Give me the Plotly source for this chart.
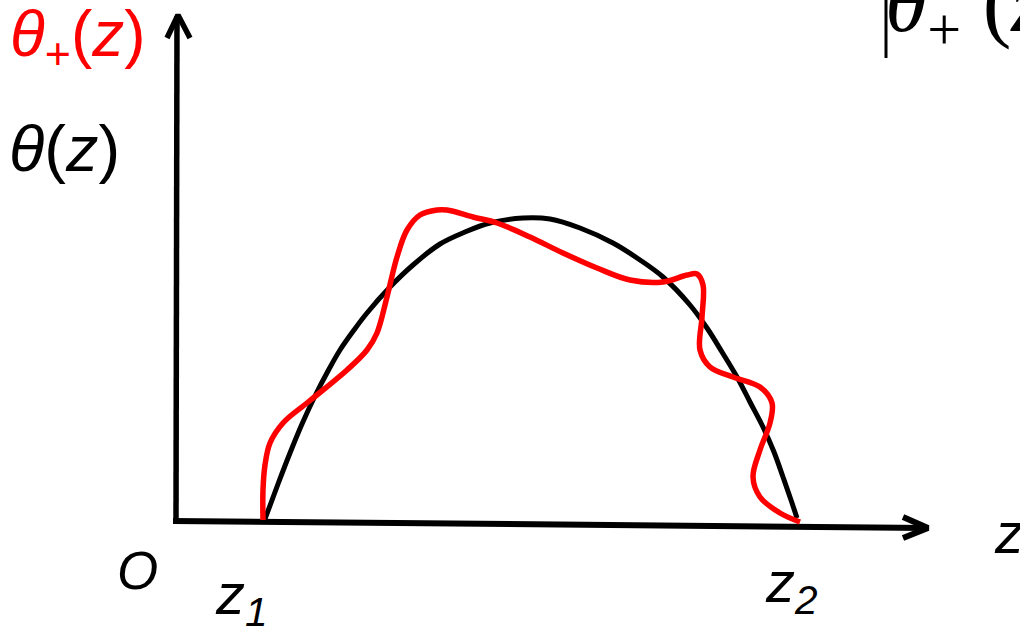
import plotly.graph_objects as go

# Coordinates: z to the right from origin O, theta upward from the z axis (pixel-like units)
z_curve = [88, 101, 113, 125, 138, 151, 163, 177, 190, 213, 236, 263, 288, 313, 346, 373, 403, 436,
           463, 486, 513, 530, 545, 560, 573, 586, 597, 606, 614, 620]
theta_curve = [2, 37, 68, 97, 125, 150, 171, 191, 208, 234, 256, 277, 289, 298, 303, 302, 293, 278,
               261, 244, 216, 193, 169, 144, 119, 94, 69, 44, 21, 3]

z_plus = [86, 86, 88, 93, 106, 130, 146, 170, 190, 200, 210, 220, 230, 243, 260, 270, 296, 320, 353, 386,
          420, 453, 486, 510, 520, 526, 525, 523, 533, 556, 583, 595, 593, 583, 576, 583, 603, 623]
theta_plus = [1, 31, 56, 78, 98, 118, 131, 151, 171, 188, 224, 264, 291, 306, 311, 311, 304, 298, 284, 268,
              253, 241, 239, 246, 247, 236, 204, 171, 154, 144, 134, 118, 98, 71, 44, 24, 8, -1]

# axes geometry
z_axis_x = [-4, 751]
z_axis_y = [0, -7]
z_head_x = [726, 751, 726]
z_head_y = [4, -7, -17]
t_axis_x = [-1, 0]
t_axis_y = [-3, 505]
t_head_x = [-10, 1, 13]
t_head_y = [483, 506, 483]

W, H = 1020, 629
X0, Y0 = 177, 521   # origin location in the picture (pixels)

fig = go.Figure()
fig.add_trace(go.Scatter(x=t_axis_x, y=t_axis_y, mode="lines",
                         line=dict(color="black", width=5.5), hoverinfo="skip"))
fig.add_trace(go.Scatter(x=t_head_x, y=t_head_y, mode="lines",
                         line=dict(color="black", width=5.5), hoverinfo="skip"))
fig.add_trace(go.Scatter(x=z_axis_x, y=z_axis_y, mode="lines",
                         line=dict(color="black", width=6), hoverinfo="skip"))
fig.add_trace(go.Scatter(x=z_head_x, y=z_head_y, mode="lines",
                         line=dict(color="black", width=6), hoverinfo="skip"))
fig.add_trace(go.Scatter(x=z_curve, y=theta_curve, mode="lines",
                         line=dict(color="black", width=5, shape="spline", smoothing=1.0),
                         hoverinfo="skip"))
fig.add_trace(go.Scatter(x=z_plus, y=theta_plus, mode="lines",
                         line=dict(color="#ff0000", width=5.5, shape="spline", smoothing=1.0),
                         hoverinfo="skip"))

# vertical bar of the cut-off formula at top right
fig.add_shape(type="line", xref="paper", yref="paper",
              x0=886 / W, x1=886 / W, y0=1.02, y1=1 - 58 / H,
              line=dict(color="black", width=3))

sans = "Liberation Sans, Arial, sans-serif"
serif = "Liberation Serif, Times New Roman, serif"

def ann(text, px, py, size, color="black", family=sans, xanchor="left", yanchor="middle"):
    fig.add_annotation(x=px / W, y=1 - py / H, xref="paper", yref="paper", text=text,
                       showarrow=False, xanchor=xanchor, yanchor=yanchor,
                       font=dict(size=size, color=color, family=family))

ann("<i>θ</i><sub>+</sub>(<i>z</i>)", 8, 38, 64, color="#ff0000")
ann("<i>θ</i>(<i>z</i>)", 7, 149, 65)
ann("<i>O</i>", 115, 570, 53)
ann("<i>z<sub>1</sub></i>", 213, 598, 58)
ann("<i>z<sub>2</sub></i>", 763, 586, 58)
ann("<i>z</i>", 992, 532, 58)
ann("<i>θ</i><sub>+</sub> (<i>z</i>)", 883, 8, 86, family=serif)

fig.update_xaxes(range=[-X0, W - X0], visible=False, fixedrange=True)
fig.update_yaxes(range=[Y0 - H, Y0], visible=False, fixedrange=True)
fig.update_layout(width=W, height=H, margin=dict(l=0, r=0, t=0, b=0),
                  paper_bgcolor="white", plot_bgcolor="white", showlegend=False)
fig.write_html("out.html", config={"displayModeBar": False},
               post_script="document.body.style.margin='0px';")
